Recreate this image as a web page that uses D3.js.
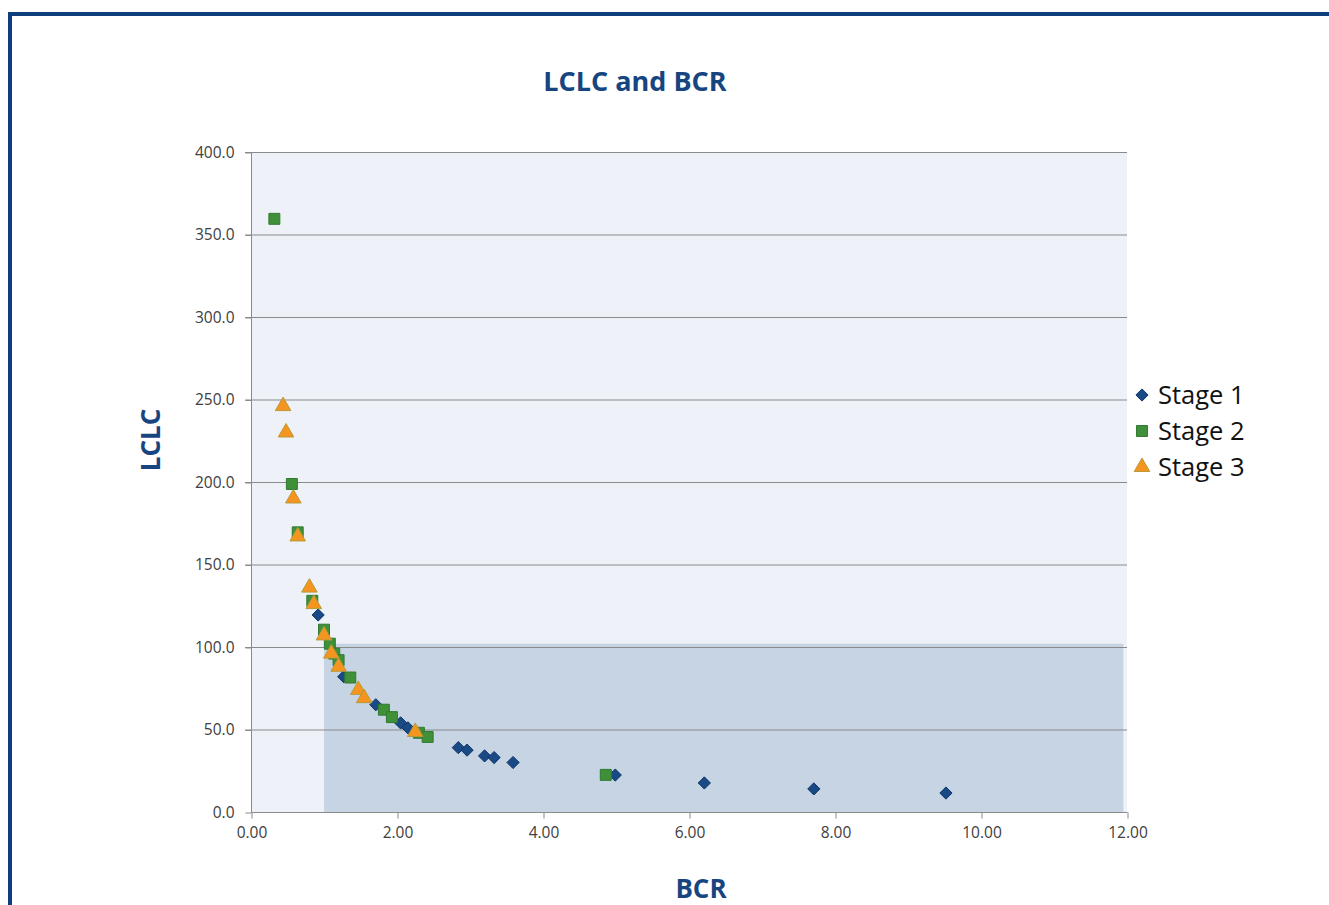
<!DOCTYPE html>
<html>
<head>
<meta charset="utf-8">
<script src="https://cdn.jsdelivr.net/npm/d3@7"></script>
<style>
  body { margin: 0; background: #fff; }
  svg { display: block; font-family: "Open Sans", "Noto Sans", sans-serif; }
</style>
</head>
<body>
<svg id="chart" width="1329" height="905"></svg>
<script>
// series as [BCR, LCLC]
var stage1 = [[0.92, 119.4], [1.27, 82], [1.71, 65], [2.05, 54], [2.15, 51], [2.84, 39],
              [2.96, 37.5], [3.2, 34], [3.33, 33], [3.59, 30], [4.99, 22.4], [6.21, 17.6],
              [7.71, 14], [9.52, 11.5]];
var stage2 = [[0.32, 359.5], [0.56, 198.8], [0.64, 169.5], [0.84, 128], [1.0, 110.5],
              [1.08, 102], [1.14, 96], [1.2, 92], [1.36, 81.5], [1.82, 62], [1.93, 57.5],
              [2.3, 48], [2.42, 45.5], [4.86, 22.5]];
var stage3 = [[0.44, 246], [0.48, 230], [0.58, 190], [0.64, 167], [0.8, 136], [0.86, 126],
              [1.0, 107], [1.1, 96], [1.2, 88], [1.47, 74], [1.55, 69], [2.25, 48.5]];

var seriesNames = ["Stage 1", "Stage 2", "Stage 3"];
var xTicks = [0, 2, 4, 6, 8, 10, 12];
var yTicks = [0, 50, 100, 150, 200, 250, 300, 350, 400];
// shaded target zone: BCR from 1 to 12, LCLC up to ~102
var zoneX = [1, 11.95];
var zoneY = [0, 102];

var svg = d3.select("#chart");

var margin = {left: 251, right: 1127, top: 152, bottom: 812};

var xScale = d3.scaleLinear().domain([0, 12]).range([margin.left, margin.right]);
var yScale = d3.scaleLinear().domain([0, 400]).range([margin.bottom, margin.top]);

// outer frame
svg.append("rect")
  .attr("x", 10).attr("y", 14)
  .attr("width", 1340).attr("height", 920)
  .attr("fill", "#fff")
  .attr("stroke", "#0e3f7c")
  .attr("stroke-width", 4);

// plot area background
svg.append("rect")
  .attr("x", xScale(0)).attr("y", yScale(400))
  .attr("width", xScale(12) - xScale(0))
  .attr("height", yScale(0) - yScale(400))
  .attr("fill", "#eef2f8");

svg.append("rect")
  .attr("x", xScale(zoneX[0])).attr("y", yScale(zoneY[1]))
  .attr("width", xScale(zoneX[1]) - xScale(zoneX[0]))
  .attr("height", yScale(zoneY[0]) - yScale(zoneY[1]))
  .attr("fill", "#c6d4e4");

// gridlines
svg.append("g")
  .selectAll("line")
  .data(yTicks.slice(1))
  .enter().append("line")
  .attr("x1", xScale(0) - 6).attr("x2", xScale(12))
  .attr("y1", function (d) { return yScale(d) + 0.5; })
  .attr("y2", function (d) { return yScale(d) + 0.5; })
  .attr("stroke", "#8a8a8a")
  .attr("stroke-width", 1);

// axes
var yAxis = d3.axisLeft(yScale)
  .tickValues(yTicks)
  .tickFormat(d3.format(".1f"))
  .tickSize(6)
  .tickPadding(11);

var xAxis = d3.axisBottom(xScale)
  .tickValues(xTicks)
  .tickFormat(d3.format(".2f"))
  .tickSize(6)
  .tickPadding(8);

var gy = svg.append("g")
  .attr("transform", "translate(" + (xScale(0) + 0.5) + ",0.5)")
  .call(yAxis);

var gx = svg.append("g")
  .attr("transform", "translate(0.5," + (yScale(0) + 0.5) + ")")
  .call(xAxis);

[gx, gy].forEach(function (g) {
  g.selectAll("path, line").attr("stroke", "#8a8a8a");
  g.selectAll("text")
    .attr("fill", "#404040")
    .style("font-size", "15.5px")
    .style("font-family", "'Open Sans', sans-serif");
});
gx.select(".domain").attr("d", "M" + xScale(0) + ",0H" + xScale(12));
gy.select(".domain").attr("d", "M0," + yScale(0) + "V" + yScale(400));

// markers
var diamond = d3.symbol().type(d3.symbolDiamond2).size(95);
var square = d3.symbol().type(d3.symbolSquare).size(120);
var triangle = d3.symbol().type(d3.symbolTriangle).size(105);

var series = [
  {name: seriesNames[0], data: stage1, sym: diamond, fill: "#1a4a86", stroke: "#0f3466"},
  {name: seriesNames[1], data: stage2, sym: square, fill: "#3f9038", stroke: "#2f7a30"},
  {name: seriesNames[2], data: stage3, sym: triangle, fill: "#f5951f", stroke: "#b79a3a"}
];

series.forEach(function (s) {
  svg.append("g")
    .selectAll("path")
    .data(s.data)
    .enter().append("path")
    .attr("d", s.sym)
    .attr("transform", function (d) {
      return "translate(" + xScale(d[0]) + "," + yScale(d[1]) + ")";
    })
    .attr("fill", s.fill)
    .attr("stroke", s.stroke)
    .attr("stroke-width", 1);
});

// title and axis labels
svg.append("text")
  .attr("x", 635).attr("y", 91)
  .attr("text-anchor", "middle")
  .attr("fill", "#17457f")
  .style("font-size", "27px").style("font-weight", "bold")
  .text("LCLC and BCR");

svg.append("text")
  .attr("x", 701).attr("y", 898)
  .attr("text-anchor", "middle")
  .attr("fill", "#17457f")
  .style("font-size", "26px").style("font-weight", "bold")
  .text("BCR");

svg.append("text")
  .attr("transform", "translate(160,440) rotate(-90)")
  .attr("text-anchor", "middle")
  .attr("fill", "#17457f")
  .style("font-size", "26px").style("font-weight", "bold")
  .text("LCLC");

// legend
var legend = svg.append("g").attr("transform", "translate(1142,395)");
series.forEach(function (s, i) {
  var row = legend.append("g").attr("transform", "translate(0," + (i * 36) + ")");
  row.append("path")
    .attr("d", s.sym)
    .attr("fill", s.fill)
    .attr("stroke", s.stroke);
  row.append("text")
    .attr("x", 16).attr("y", 9)
    .attr("fill", "#111")
    .style("font-size", "25.5px")
    .text(s.name);
});
</script>
</body>
</html>
